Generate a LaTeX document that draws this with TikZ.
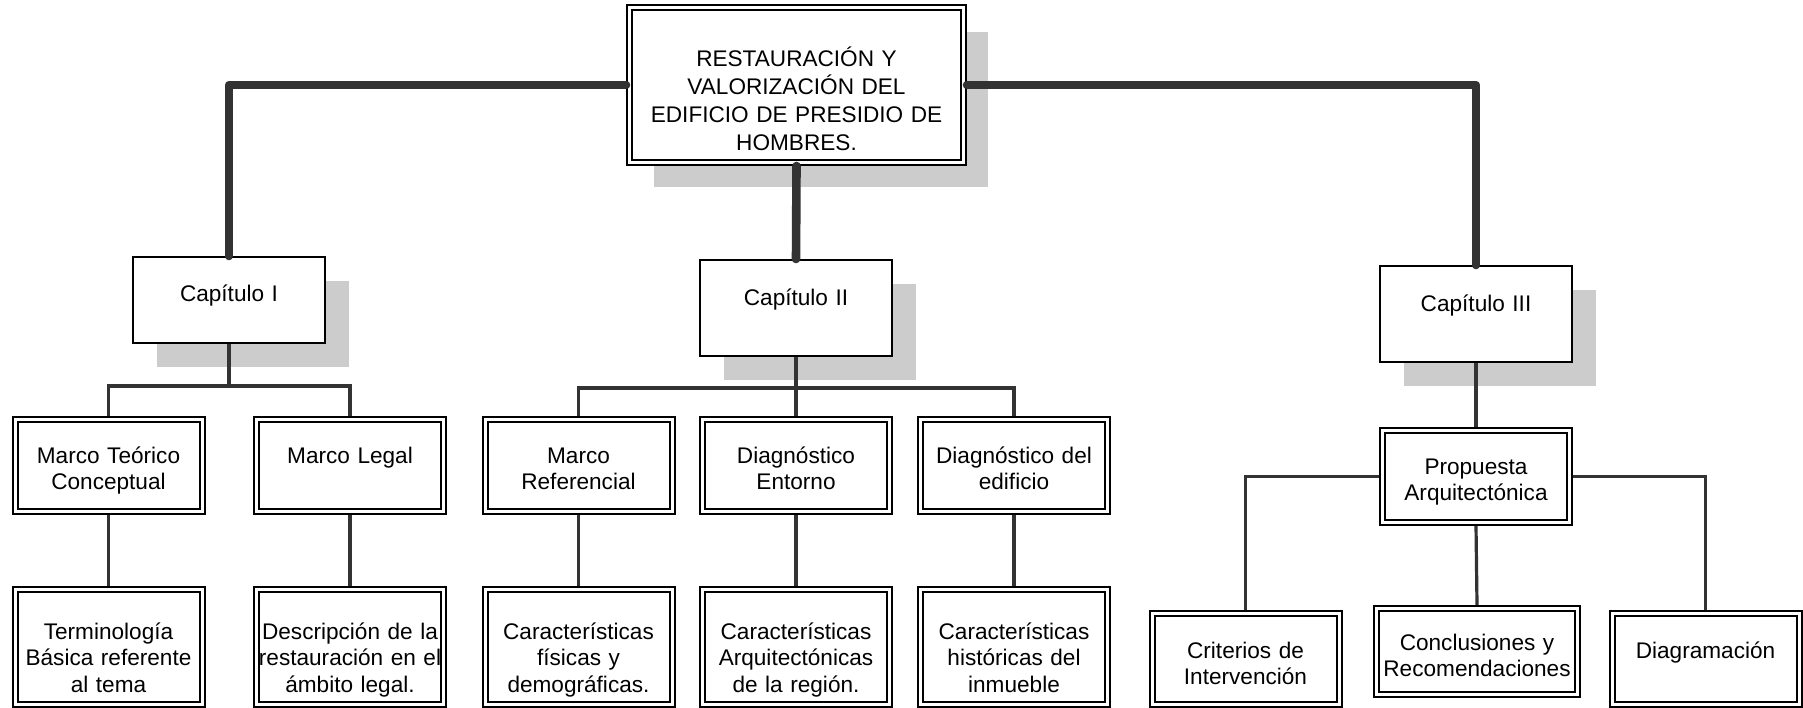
\documentclass[tikz,border=0pt]{standalone}
\usepackage{fontspec}
\setmainfont{Liberation Sans}
\usetikzlibrary{shadows}
\definecolor{sombra}{HTML}{CCCCCC}
\definecolor{linea}{HTML}{333333}

\begin{document}
\begin{tikzpicture}[x=0.5pt,y=-0.5pt,
doble/.style={draw, double, line width=1pt, double distance=1.5pt, outer sep=1.75pt, inner sep=0pt, fill=white, anchor=north, align=center, text width=93.5pt, font=\fontsize{11.3}{13.4}\selectfont, text height=21.75pt, text depth=24.25pt},
abajo/.style={doble, text height=24.75pt, text depth=32.75pt},
final/.style={doble, text height=22.25pt, text depth=23.25pt},
titulo/.style={doble, text width=167pt, font=\fontsize{11.3}{14.15}\selectfont, text height=29.25pt, text depth=48.25pt, drop shadow={shadow xshift=12pt, shadow yshift=-12pt, fill=sombra, opacity=1}},
capitulo/.style={draw, line width=1pt, outer sep=0.5pt, inner sep=0pt, fill=white, anchor=north, align=center, text width=96pt, font=\fontsize{11.3}{13.4}\selectfont, text height=22.5pt, text depth=25.5pt, drop shadow={shadow xshift=12pt, shadow yshift=-12pt, fill=sombra, opacity=1}},
grueso/.style={draw=linea, line width=4.3pt, line cap=round, line join=round},
fino/.style={draw=linea, line width=1.6pt},
bus/.style={to path={-- ++(0,#1) -| (\tikztotarget)}},
codo/.style={to path={-| (\tikztotarget)}},
]
\useasboundingbox (0,0) rectangle (1803,707);

\node[titulo] (tit) at (796.5,4) {RESTAURACIÓN Y\\ VALORIZACIÓN DEL\\ EDIFICIO DE PRESIDIO DE\\ HOMBRES.};

\node[capitulo, text height=22pt, text depth=21pt] (cap1) at (229,256) {Capítulo I};
\node[capitulo] (cap2) at (796,259) {Capítulo II};
\node[capitulo] (cap3) at (1476,265) {Capítulo III};

\node[doble] (mt) at (108.5,416) {Marco Teórico\\ Conceptual};
\node[doble] (ml) at (350,416) {Marco Legal};
\node[doble] (mr) at (578.5,416) {Marco\\ Referencial};
\node[doble] (de) at (796,416) {Diagnóstico\\ Entorno};
\node[doble] (dd) at (1014,416) {Diagnóstico del\\ edificio};
\node[doble] (pa) at (1476,427) {Propuesta\\ Arquitectónica};

\node[abajo] (tb) at (108.5,586) {Terminología\\ Básica referente\\ al tema};
\node[abajo] (dl) at (350,586) {Descripción de la\\ restauración en el\\ ámbito legal.};
\node[abajo] (cf) at (578.5,586) {Características\\ físicas y\\ demográficas.};
\node[abajo] (ca) at (796,586) {Características\\ Arquitectónicas\\ de la región.};
\node[abajo] (ch) at (1014,586) {Características\\ históricas del\\ inmueble};
\node[final] (cr) at (1245.5,610) {Criterios de\\ Intervención};
\node[doble, text width=100.5pt, text height=20.75pt, text depth=22.25pt] (cy) at (1477,605) {Conclusiones y\\ Recomendaciones};
\node[final] (dg) at (1705.5,610) {Diagramación};

\draw[grueso] (tit.west) -| (cap1.north);
\draw[grueso] (tit.east) -| (cap3.north);
\draw[grueso] (tit.south) -- (cap2.north);

\path[fino]
(cap1.south) edge[bus=42] (mt.north)
(cap1.south) edge[bus=42] (ml.north)
(cap2.south) edge[bus=31] (mr.north)
(cap2.south) edge (de.north)
(cap2.south) edge[bus=31] (dd.north)
(cap3.south) edge (pa.north)
(mt.south) edge (tb.north)
(ml.south) edge (dl.north)
(mr.south) edge (cf.north)
(de.south) edge (ca.north)
(dd.south) edge (ch.north)
(pa.west) edge[codo] (cr.north)
(pa.east) edge[codo] (dg.north)
(pa.south) edge (cy.north)
;
\end{tikzpicture}
\end{document}
